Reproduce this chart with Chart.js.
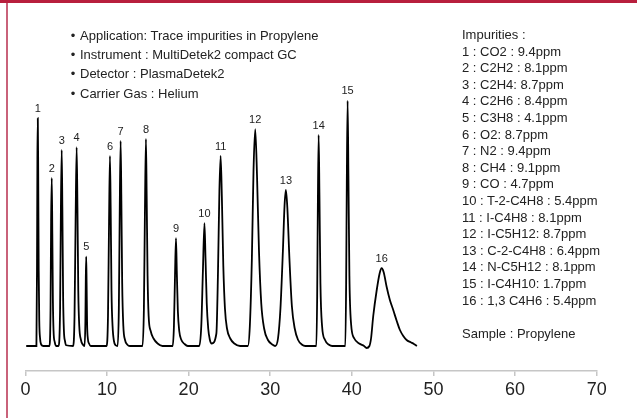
<!DOCTYPE html>
<html>
<head>
<meta charset="utf-8">
<script src="https://cdn.jsdelivr.net/npm/chart.js@4"></script>
<style>
  body { margin: 0; background: #fff; }
  #wrap { position: relative; width: 637px; height: 418px; overflow: hidden; font-family: "Liberation Sans", Arial, sans-serif; color: #222; }
  #chart { position: absolute; left: 0; top: 0; }
  .topbar { position: absolute; left: 0; top: 0; width: 637px; height: 3px; background: #b81f3d; }
  .sidebar { position: absolute; left: 6px; top: 3px; width: 2px; height: 415px; background: #c9627a; }
  .info { position: absolute; left: 66px; top: 26px; font-size: 13px; line-height: 19.2px; }
  .info div::before { content: "\2022"; display: inline-block; width: 14px; text-align: center; }
  .impurities { position: absolute; left: 462px; top: 27px; font-size: 13px; line-height: 16.6px; white-space: pre; }
</style>
</head>
<body>
<div id="wrap">
  <canvas id="chart" width="637" height="418"></canvas>
  <div class="topbar"></div>
  <div class="sidebar"></div>
  <div class="info" id="info"></div>
  <div class="impurities" id="impurities"></div>
</div>
<script>
// chromatogram trace (time in min, signal in arbitrary units)
const traceTime = [
  0.1, 1.35, 1.42, 1.47, 1.52, 1.57, 1.63, 1.70, 1.80, 1.95, 2.2,
  2.95, 3.08, 3.15, 3.23, 3.30, 3.37, 3.45, 3.6, 3.8,
  4.05, 4.25, 4.35, 4.45, 4.53, 4.62, 4.72, 4.85, 5.0,
  5.85, 6.02, 6.15, 6.28, 6.38, 6.48, 6.6, 6.8, 7.05, 7.25,
  7.35, 7.40, 7.45, 7.50, 7.56, 7.65, 7.8, 8.0,
  9.95, 10.12, 10.25, 10.36, 10.45, 10.55, 10.68, 10.85, 11.05,
  11.3, 11.45, 11.56, 11.67, 11.76, 11.86, 12.0, 12.2, 12.5, 12.8,
  14.35, 14.52, 14.65, 14.77, 14.86, 14.97, 15.1, 15.35, 15.7, 16.2, 16.8,
  18.05, 18.2, 18.33, 18.45, 18.55, 18.68, 18.85, 19.1, 19.5, 19.9,
  21.3, 21.55, 21.75, 21.94, 22.07, 22.22, 22.4, 22.6, 22.82,
  23.4, 23.6, 23.77, 23.92, 24.07, 24.25, 24.45, 24.7, 25.1, 25.6, 26.3,
  27.25, 27.5, 27.75, 27.95, 28.16, 28.38, 28.62, 28.9, 29.25, 29.7, 30.3, 30.6,
  30.95, 31.25, 31.55, 31.75, 31.92, 32.1, 32.35, 32.65, 33.0, 33.4, 33.9, 34.3,
  35.65, 35.75, 35.83, 35.93, 36.03, 36.15, 36.35, 36.7, 37.2, 37.6,
  39.2, 39.3, 39.38, 39.48, 39.58, 39.7, 39.9, 40.3, 40.9, 41.5, 41.8, 42.15,
  42.35, 42.62, 43.03, 43.4, 43.65, 43.9, 44.26, 44.65, 45.07, 45.5, 45.89, 46.3, 46.71, 47.2, 47.6, 47.97
];
const traceSignal = [
  0, 0, 30, 75, 91.1, 70, 30, 10, 3, 0.5, 0,
  0, 15, 50, 67.2, 45, 18, 6, 1.5, 0,
  0, 15, 55, 78.4, 55, 20, 6, 2, 0.3,
  0, 12, 50, 79.5, 55, 22, 8, 2.5, 0.5, 0,
  10, 27, 35.7, 25, 9, 3, 1, 0,
  0, 12, 50, 76, 55, 22, 8, 2, 0.3,
  0, 15, 55, 82, 58, 25, 8, 2.5, 0.5, 0,
  0, 15, 55, 82.8, 60, 28, 12, 6, 3, 1, 0,
  0, 8, 28, 43.1, 30, 14, 6, 2.5, 0.8, 0,
  0, 8, 30, 49.1, 35, 17, 7, 2.5, 1,
  5, 30, 62, 76, 60, 32, 15, 7, 3, 1, 0,
  0, 8, 35, 70, 86.7, 68, 38, 17, 7, 2.5, 0.5, 0,
  3, 15, 38, 56, 62.4, 55, 35, 16, 7, 2.5, 0.5, 0,
  0, 20, 55, 84.4, 60, 25, 8, 2.5, 0.5, 0,
  0, 25, 65, 98.1, 68, 28, 9, 3, 1, 0, -0.8, 0,
  3, 12, 22, 29, 31.1, 29.5, 23.7, 18.5, 14.4, 10, 6.4, 4, 2.4, 1.5, 0.8, 0
];

// peak numbers and apexes
const peakNumbers = ["1", "2", "3", "4", "5", "6", "7", "8", "9", "10", "11", "12", "13", "14", "15", "16"];
const peakTimes = [1.52, 3.23, 4.45, 6.28, 7.45, 10.36, 11.67, 14.77, 18.45, 21.94, 23.92, 28.16, 31.92, 35.93, 39.48, 43.65];
const peakHeights = [91.1, 67.2, 78.4, 79.5, 35.7, 76, 82, 82.8, 43.1, 49.1, 76, 86.7, 62.4, 84.4, 98.1, 31.1];

const xTicks = [0, 10, 20, 30, 40, 50, 60, 70];

const infoLines = [
  "Application: Trace impurities in Propylene",
  "Instrument : MultiDetek2 compact GC",
  "Detector : PlasmaDetek2",
  "Carrier Gas : Helium"
];
const impurityLines = [
  "Impurities :",
  "1 : CO2 : 9.4ppm",
  "2 : C2H2 : 8.1ppm",
  "3 : C2H4: 8.7ppm",
  "4 : C2H6 : 8.4ppm",
  "5 : C3H8 : 4.1ppm",
  "6 : O2: 8.7ppm",
  "7 : N2 : 9.4ppm",
  "8 : CH4 : 9.1ppm",
  "9 : CO : 4.7ppm",
  "10 : T-2-C4H8 : 5.4ppm",
  "11 : I-C4H8 : 8.1ppm",
  "12 : I-C5H12: 8.7ppm",
  "13 : C-2-C4H8 : 6.4ppm",
  "14 : N-C5H12 : 8.1ppm",
  "15 : I-C4H10: 1.7ppm",
  "16 : 1,3 C4H6 : 5.4ppm",
  "",
  "Sample : Propylene"
];

document.getElementById("info").innerHTML =
  infoLines.map(t => "<div>" + t + "</div>").join("");
document.getElementById("impurities").textContent = impurityLines.join("\n");

const points = traceTime.map((t, i) => ({ x: t, y: traceSignal[i] }));

const peakLabels = {
  id: "peakLabels",
  afterDatasetsDraw(chart) {
    const ctx = chart.ctx;
    const xs = chart.scales.x;
    const ys = chart.scales.y;
    ctx.save();
    ctx.font = '11px "Liberation Sans", Arial, sans-serif';
    ctx.fillStyle = "#222";
    ctx.textAlign = "center";
    ctx.textBaseline = "middle";
    peakNumbers.forEach((label, i) => {
      const px = xs.getPixelForValue(peakTimes[i]);
      const py = ys.getPixelForValue(peakHeights[i]);
      ctx.fillText(label, px, py - 9.5);
    });
    ctx.restore();
  }
};

new Chart(document.getElementById("chart").getContext("2d"), {
  type: "scatter",
  data: {
    datasets: [{
      data: points,
      showLine: true,
      borderColor: "#000",
      borderWidth: 1.8,
      pointRadius: 0,
      cubicInterpolationMode: "monotone"
    }]
  },
  options: {
    responsive: false,
    animation: false,
    layout: { padding: { left: 25.4, right: 40.3, top: 96, bottom: 0 } },
    plugins: { legend: { display: false }, tooltip: { enabled: false } },
    scales: {
      x: {
        type: "linear",
        min: 0,
        max: 70,
        afterFit: s => { s.height = 47; },
        afterBuildTicks: s => { s.ticks = xTicks.map(v => ({ value: v })); },
        ticks: {
          color: "#222",
          font: { family: "Liberation Sans", size: 18 },
          padding: 3,
          maxRotation: 0
        },
        grid: { drawOnChartArea: false, drawTicks: true, tickLength: 5, color: "#c6c6c6", lineWidth: 1.5 },
        border: { display: true, color: "#c6c6c6", width: 1.5 }
      },
      y: {
        display: false,
        min: -10,
        max: 100
      }
    }
  },
  plugins: [peakLabels]
});
</script>
</body>
</html>
